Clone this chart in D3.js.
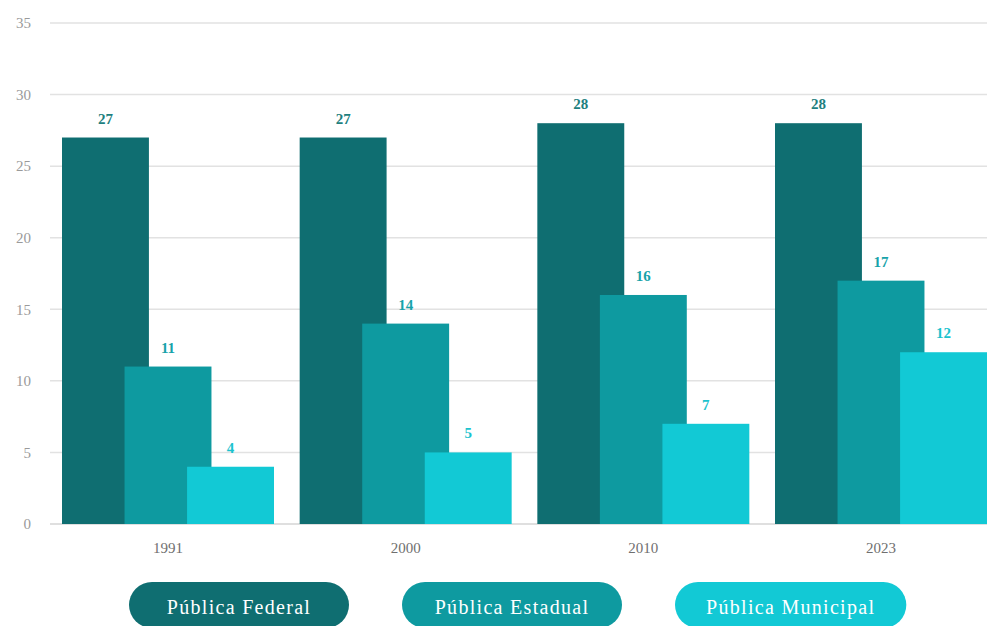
<!DOCTYPE html>
<html>
<head>
<meta charset="utf-8">
<script src="https://cdn.jsdelivr.net/npm/d3@7"></script>
<style>
  html, body { margin: 0; padding: 0; background: #ffffff; }
  svg { display: block; font-family: "Liberation Serif", "Times New Roman", serif; }
</style>
</head>
<body>
<svg id="chart" width="987" height="626"></svg>
<script>
// Categories (years) and the three series
const years = ["1991", "2000", "2010", "2023"];
const seriesNames = ["Pública Federal", "Pública Estadual", "Pública Municipal"];
const federal = [27, 27, 28, 28];
const estadual = [11, 14, 16, 17];
const municipal = [4, 5, 7, 12];
const yTicks = [0, 5, 10, 15, 20, 25, 30, 35];

const seriesValues = [federal, estadual, municipal];
const barColors = ["#0f6e71", "#0e9aa0", "#12c9d5"];
const labelColors = ["#1e7f80", "#17a3aa", "#1bc3ce"];

const svg = d3.select("#chart");
const W = 987, H = 626;

const y = d3.scaleLinear().domain([0, 35]).range([524, 23]);

const x = d3.scaleBand()
  .domain(years)
  .range([62, 987])
  .paddingInner(0.108)
  .paddingOuter(0);

// bars inside a group overlap: each is 41% of the group width
const barW = x.bandwidth() * 0.41;
const xs = d3.scalePoint()
  .domain(seriesNames)
  .range([0, x.bandwidth() - barW]);

// Gridlines
svg.append("g")
  .selectAll("line")
  .data(yTicks)
  .join("line")
  .attr("x1", 50).attr("x2", W)
  .attr("y1", d => y(d)).attr("y2", d => y(d))
  .attr("stroke", d => d === 0 ? "#d4d4d4" : "#e2e2e2")
  .attr("stroke-width", 1.5);

// Y tick labels
svg.append("g")
  .selectAll("text")
  .data(yTicks)
  .join("text")
  .attr("x", 31)
  .attr("y", d => y(d))
  .attr("dy", "0.35em")
  .attr("text-anchor", "end")
  .attr("fill", "#9a9a9a")
  .attr("font-size", 15)
  .text(d => d);

// Bars, drawn series by series so later ones overlap earlier ones
seriesNames.forEach((name, si) => {
  const g = svg.append("g");
  g.selectAll("rect")
    .data(years.map((yr, i) => ({ yr, v: seriesValues[si][i] })))
    .join("rect")
    .attr("x", d => x(d.yr) + xs(name))
    .attr("y", d => y(d.v))
    .attr("width", barW)
    .attr("height", d => y(0) - y(d.v))
    .attr("fill", barColors[si]);
});

// Value labels above bars
seriesNames.forEach((name, si) => {
  svg.append("g")
    .selectAll("text")
    .data(years.map((yr, i) => ({ yr, v: seriesValues[si][i] })))
    .join("text")
    .attr("x", d => x(d.yr) + xs(name) + barW / 2)
    .attr("y", d => y(d.v) - 14)
    .attr("text-anchor", "middle")
    .attr("fill", labelColors[si])
    .attr("font-size", 15)
    .attr("font-weight", "bold")
    .text(d => d.v);
});

// Category labels
svg.append("g")
  .selectAll("text")
  .data(years)
  .join("text")
  .attr("x", d => x(d) + x.bandwidth() / 2)
  .attr("y", 553)
  .attr("text-anchor", "middle")
  .attr("fill", "#6f6f6f")
  .attr("font-size", 15)
  .text(d => d);

// Legend pills, left edges evenly spaced, width fitted to the text
const pillH = 46, pillGap = 273, pillLeft = 129;
const lg = svg.append("g")
  .selectAll("g")
  .data(seriesNames)
  .join("g")
  .attr("transform", (d, i) => `translate(${pillLeft + i * pillGap},582)`);
const pillRects = lg.append("rect")
  .attr("y", 0)
  .attr("height", pillH)
  .attr("rx", pillH / 2).attr("ry", pillH / 2)
  .attr("fill", (d, i) => barColors[i]);
const pillTexts = lg.append("text")
  .attr("text-anchor", "middle")
  .attr("y", 25)
  .attr("dy", "0.35em")
  .attr("fill", "#ffffff")
  .attr("font-size", 20)
  .attr("letter-spacing", 1.3)
  .text(d => d);
pillTexts.each(function (d, i) {
  const tw = this.getComputedTextLength();
  const pw = Math.max(220, tw + 62);
  d3.select(pillRects.nodes()[i]).attr("width", pw);
  d3.select(this).attr("x", pw / 2);
});
</script>
</body>
</html>
